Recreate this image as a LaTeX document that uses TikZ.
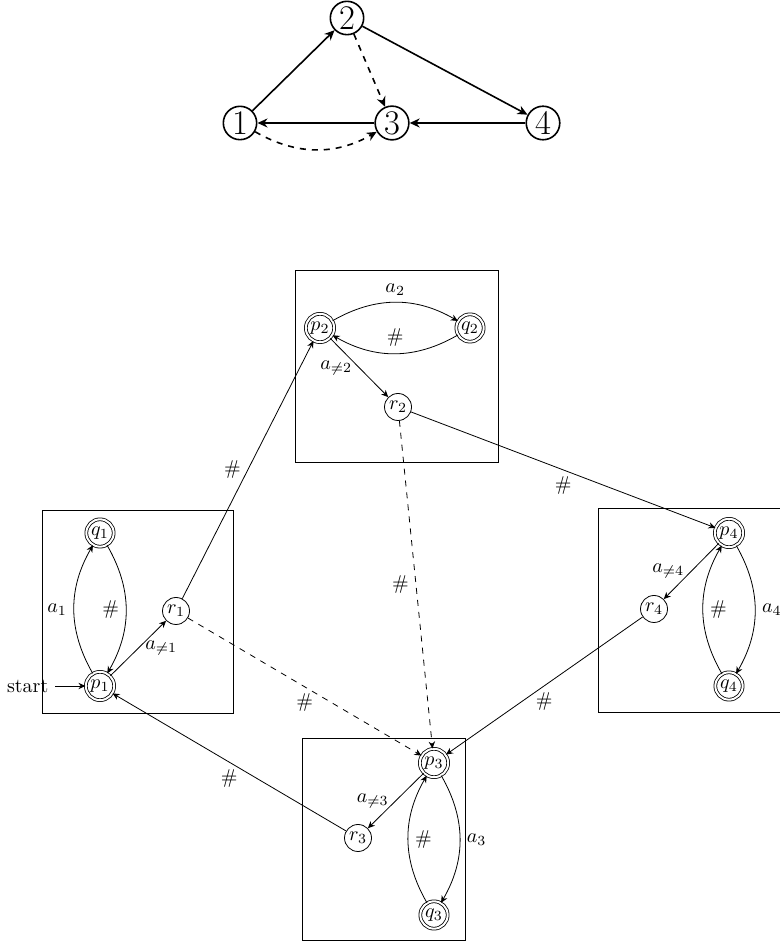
\documentclass[tikz,border=0pt]{standalone}
\usetikzlibrary{arrows.meta, positioning}
\tikzset{
  vertex/.style={circle, draw, thick, inner sep=1pt, font=\LARGE},
  state/.style={circle, draw, inner sep=1pt, minimum size=13.5pt},
  accept/.style={state, double, double distance=1pt},
  bigarrow/.style={-{Stealth[length=5pt, width=4.5pt]}, thick},
  arrow/.style={-{Stealth[length=3.5pt, width=3.2pt]}},
}
\begin{document}
\begin{tikzpicture}[x=0.5pt, y=0.5pt]
\useasboundingbox (0,0) rectangle (780,942);

% top graph
\node[vertex] (v1) at (240,819) {1};
\node[vertex] (v2) at (347,924) {2};
\node[vertex] (v3) at (392,819) {3};
\node[vertex] (v4) at (543,819) {4};
\draw[bigarrow] (v1) -- (v2);
\draw[bigarrow, dashed] (v2) -- (v3);
\draw[bigarrow] (v2) -- (v4);
\draw[bigarrow] (v3) -- (v1);
\draw[bigarrow] (v4) -- (v3);
\draw[bigarrow, dashed] (v1) to[bend right] (v3);

% boxes
\draw (42,229) rectangle (233,432);
\draw (295,480) rectangle (498,672);
\draw (302,2) rectangle (465,204);
\draw (598,230) rectangle (800,434);

% box 1
\node[accept] (p1) at (100,256) {$p_1$};
\node[accept] (q1) at (100,409) {$q_1$};
\node[state] (r1) at (176,331) {$r_1$};
\node (start) [left=15pt of p1] {start};
\draw[arrow] (start) -- (p1);
\draw[arrow] (p1) to[bend left] node[left] {$a_1$} (q1);
\draw[arrow] (q1) to[bend left] node[left] {$\#$} (p1);
\draw[arrow] (p1) -- node[right] {$a_{\neq 1}$} (r1);

% box 2
\node[accept] (p2) at (320,614) {$p_2$};
\node[accept] (q2) at (470,614) {$q_2$};
\node[state] (r2) at (398,535) {$r_2$};
\draw[arrow] (p2) to[bend left] node[above] {$a_2$} (q2);
\draw[arrow] (q2) to[bend left] node[above] {$\#$} (p2);
\draw[arrow] (p2) -- node[left] {$a_{\neq 2}$} (r2);

% box 3
\node[accept] (p3) at (434,179) {$p_3$};
\node[accept] (q3) at (434,27) {$q_3$};
\node[state] (r3) at (358,104) {$r_3$};
\draw[arrow] (p3) to[bend left] node[right] {$a_3$} (q3);
\draw[arrow] (q3) to[bend left] node[right] {$\#$} (p3);
\draw[arrow] (p3) -- node[left] {$a_{\neq 3}$} (r3);

% box 4
\node[accept] (p4) at (729,409) {$p_4$};
\node[accept] (q4) at (729,256) {$q_4$};
\node[state] (r4) at (654,333) {$r_4$};
\draw[arrow] (p4) to[bend left] node[right] {$a_4$} (q4);
\draw[arrow] (q4) to[bend left] node[right] {$\#$} (p4);
\draw[arrow] (p4) -- node[left] {$a_{\neq 4}$} (r4);

% between boxes
\draw[arrow] (r1) -- node[left] {$\#$} (p2);
\draw[arrow] (r2) -- node[below] {$\#$} (p4);
\draw[arrow, dashed] (r2) -- node[left] {$\#$} (p3);
\draw[arrow, dashed] (r1) -- node[below] {$\#$} (p3);
\draw[arrow] (r4) -- node[below] {$\#$} (p3);
\draw[arrow] (r3) -- node[below] {$\#$} (p1);
\end{tikzpicture}
\end{document}
